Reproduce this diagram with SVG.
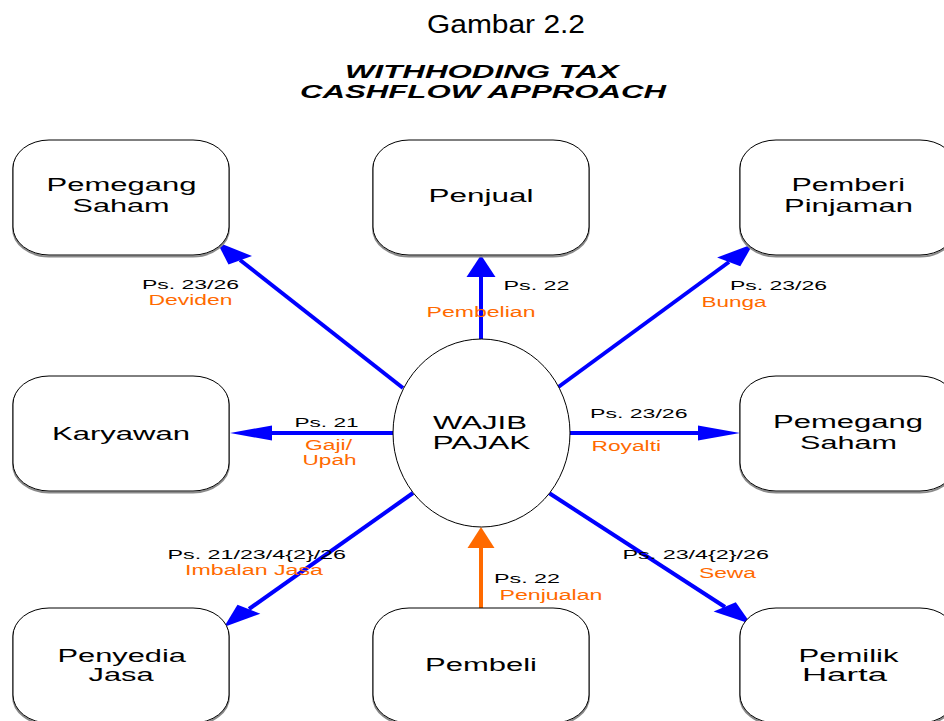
<svg xmlns="http://www.w3.org/2000/svg" width="944" height="721" viewBox="0 0 944 721">
<style>
.node rect.sh{fill:none;stroke:#8a8a8a;stroke-width:2}
.node rect.bx{fill:#fff;stroke:#000;stroke-width:1}
.nt{font-family:"Liberation Sans",Arial,sans-serif;font-size:17.5px;fill:#000}
.lb{font-family:"Liberation Sans",Arial,sans-serif;font-size:13.5px;fill:#000}
.lo{font-family:"Liberation Sans",Arial,sans-serif;font-size:14px;fill:#FF6A00}
.ln{stroke:#0000FF;stroke-width:4;fill:none}
.lno{stroke:#FF6A00;stroke-width:4;fill:none}
.hd{fill:#0000FF}
.hdo{fill:#FF6A00}
</style>
<rect width="944" height="721" fill="#fff"/>
<g id="title">
<text x="427" y="33" class="nt" style="font-size:25px" textLength="158" lengthAdjust="spacingAndGlyphs">Gambar 2.2</text>
<text x="345" y="78" class="nt" style="font-weight:bold;font-style:italic;font-size:18px" textLength="274" lengthAdjust="spacingAndGlyphs">WITHHODING TAX</text>
<text x="300" y="98" class="nt" style="font-weight:bold;font-style:italic;font-size:18px" textLength="366" lengthAdjust="spacingAndGlyphs">CASHFLOW APPROACH</text>
</g>
<g id="connectors">
<line class="ln" x1="403" y1="388" x2="240" y2="260"/>
<polygon class="hd" points="217,242 252,256 228.5,264.5"/>
<line class="ln" x1="481" y1="339" x2="481" y2="275"/>
<polygon class="hd" points="481,255 495.5,277 466.5,277"/>
<line class="ln" x1="557" y1="388" x2="729" y2="262"/>
<polygon class="hd" points="753,244 740.3,266.3 717.1,257.5"/>
<line class="ln" x1="393" y1="433" x2="270" y2="433"/>
<polygon class="hd" points="230,433 272,425.5 272,440.5"/>
<line class="ln" x1="569" y1="433" x2="700" y2="433"/>
<polygon class="hd" points="740,433 698,425.5 698,440.5"/>
<line class="ln" x1="413" y1="493" x2="249" y2="609"/>
<polygon class="hd" points="224,627 260.3,613.8 237.5,604.8"/>
<line class="ln" x1="549" y1="493" x2="725" y2="607"/>
<polygon class="hd" points="751,624 713.6,611.6 735.8,602.2"/>
<line class="lno" x1="481" y1="608" x2="481" y2="546"/>
<polygon class="hdo" points="481,527 494.5,548 467.5,548"/>
</g>
<g id="labels">
<text class="lb" x="142" y="288.5" textLength="97" lengthAdjust="spacingAndGlyphs">Ps. 23/26</text>
<text class="lo" x="148.5" y="304.5" textLength="84" lengthAdjust="spacingAndGlyphs">Deviden</text>
<text class="lb" x="503.5" y="289.5" textLength="66" lengthAdjust="spacingAndGlyphs">Ps. 22</text>
<text class="lo" x="426.5" y="316.5" textLength="109" lengthAdjust="spacingAndGlyphs">Pembelian</text>
<text class="lb" x="730" y="289.5" textLength="97" lengthAdjust="spacingAndGlyphs">Ps. 23/26</text>
<text class="lo" x="701.5" y="307" textLength="65" lengthAdjust="spacingAndGlyphs">Bunga</text>
<text class="lb" x="294.5" y="427" textLength="64" lengthAdjust="spacingAndGlyphs">Ps. 21</text>
<text class="lo" x="305" y="449.5" textLength="47" lengthAdjust="spacingAndGlyphs">Gaji/</text>
<text class="lo" x="302.5" y="465" textLength="54" lengthAdjust="spacingAndGlyphs">Upah</text>
<text class="lb" x="590" y="417.5" textLength="97.5" lengthAdjust="spacingAndGlyphs">Ps. 23/26</text>
<text class="lo" x="591.5" y="451" textLength="69.5" lengthAdjust="spacingAndGlyphs">Royalti</text>
<text class="lb" x="167.5" y="558.5" textLength="178.5" lengthAdjust="spacingAndGlyphs">Ps. 21/23/4{2}/26</text>
<text class="lo" x="185" y="575" textLength="138" lengthAdjust="spacingAndGlyphs">Imbalan Jasa</text>
<text class="lb" x="622.5" y="558.5" textLength="146.5" lengthAdjust="spacingAndGlyphs">Ps. 23/4{2}/26</text>
<text class="lo" x="699" y="577.5" textLength="57" lengthAdjust="spacingAndGlyphs">Sewa</text>
<text class="lb" x="494" y="583" textLength="66" lengthAdjust="spacingAndGlyphs">Ps. 22</text>
<text class="lo" x="499.5" y="599.5" textLength="103" lengthAdjust="spacingAndGlyphs">Penjualan</text>
</g>
<g id="wajib-pajak" class="node">
<ellipse cx="481.5" cy="433" rx="88.5" ry="94" fill="#fff" stroke="#000" stroke-width="1"/>
<text class="nt" x="433" y="429" style="font-size:18px" textLength="94" lengthAdjust="spacingAndGlyphs">WAJIB</text>
<text class="nt" x="432.5" y="448.5" style="font-size:18px" textLength="98" lengthAdjust="spacingAndGlyphs">PAJAK</text>
</g>
<g id="pemegang-saham-1" class="node">
<rect class="sh" x="13" y="141.5" width="216" height="115" rx="36" ry="28"/>
<rect class="bx" x="13" y="140" width="216" height="115" rx="36" ry="28"/>
<text class="nt" x="46.5" y="190.5" textLength="150" lengthAdjust="spacingAndGlyphs">Pemegang</text>
<text class="nt" x="72.5" y="211.5" textLength="97" lengthAdjust="spacingAndGlyphs">Saham</text>
</g>
<g id="penjual" class="node">
<rect class="sh" x="373" y="141.5" width="216" height="115" rx="36" ry="28"/>
<rect class="bx" x="373" y="140" width="216" height="115" rx="36" ry="28"/>
<text class="nt" x="428.5" y="202" textLength="105" lengthAdjust="spacingAndGlyphs">Penjual</text>
</g>
<g id="pemberi-pinjaman" class="node">
<rect class="sh" x="740" y="141.5" width="216" height="115" rx="36" ry="28"/>
<rect class="bx" x="740" y="140" width="216" height="115" rx="36" ry="28"/>
<text class="nt" x="791.5" y="191" textLength="113.5" lengthAdjust="spacingAndGlyphs">Pemberi</text>
<text class="nt" x="784" y="211.5" textLength="129" lengthAdjust="spacingAndGlyphs">Pinjaman</text>
</g>
<g id="karyawan" class="node">
<rect class="sh" x="13" y="377.5" width="216" height="115" rx="36" ry="28"/>
<rect class="bx" x="13" y="376" width="216" height="115" rx="36" ry="28"/>
<text class="nt" x="52" y="440" textLength="138" lengthAdjust="spacingAndGlyphs">Karyawan</text>
</g>
<g id="pemegang-saham-2" class="node">
<rect class="sh" x="740" y="377.5" width="216" height="115" rx="36" ry="28"/>
<rect class="bx" x="740" y="376" width="216" height="115" rx="36" ry="28"/>
<text class="nt" x="773" y="428" textLength="150" lengthAdjust="spacingAndGlyphs">Pemegang</text>
<text class="nt" x="800" y="449" textLength="97" lengthAdjust="spacingAndGlyphs">Saham</text>
</g>
<g id="penyedia-jasa" class="node">
<rect class="sh" x="13" y="609.5" width="216" height="115" rx="36" ry="28"/>
<rect class="bx" x="13" y="608" width="216" height="115" rx="36" ry="28"/>
<text class="nt" x="57.5" y="661.5" textLength="128.5" lengthAdjust="spacingAndGlyphs">Penyedia</text>
<text class="nt" x="88.5" y="681" textLength="65" lengthAdjust="spacingAndGlyphs">Jasa</text>
</g>
<g id="pembeli" class="node">
<rect class="sh" x="373" y="609.5" width="216" height="115" rx="36" ry="28"/>
<rect class="bx" x="373" y="608" width="216" height="115" rx="36" ry="28"/>
<text class="nt" x="425" y="671" textLength="112" lengthAdjust="spacingAndGlyphs">Pembeli</text>
</g>
<g id="pemilik-harta" class="node">
<rect class="sh" x="740" y="609.5" width="216" height="115" rx="36" ry="28"/>
<rect class="bx" x="740" y="608" width="216" height="115" rx="36" ry="28"/>
<text class="nt" x="798.5" y="662" textLength="100" lengthAdjust="spacingAndGlyphs">Pemilik</text>
<text class="nt" x="802" y="681" textLength="85" lengthAdjust="spacingAndGlyphs">Harta</text>
</g>
</svg>
